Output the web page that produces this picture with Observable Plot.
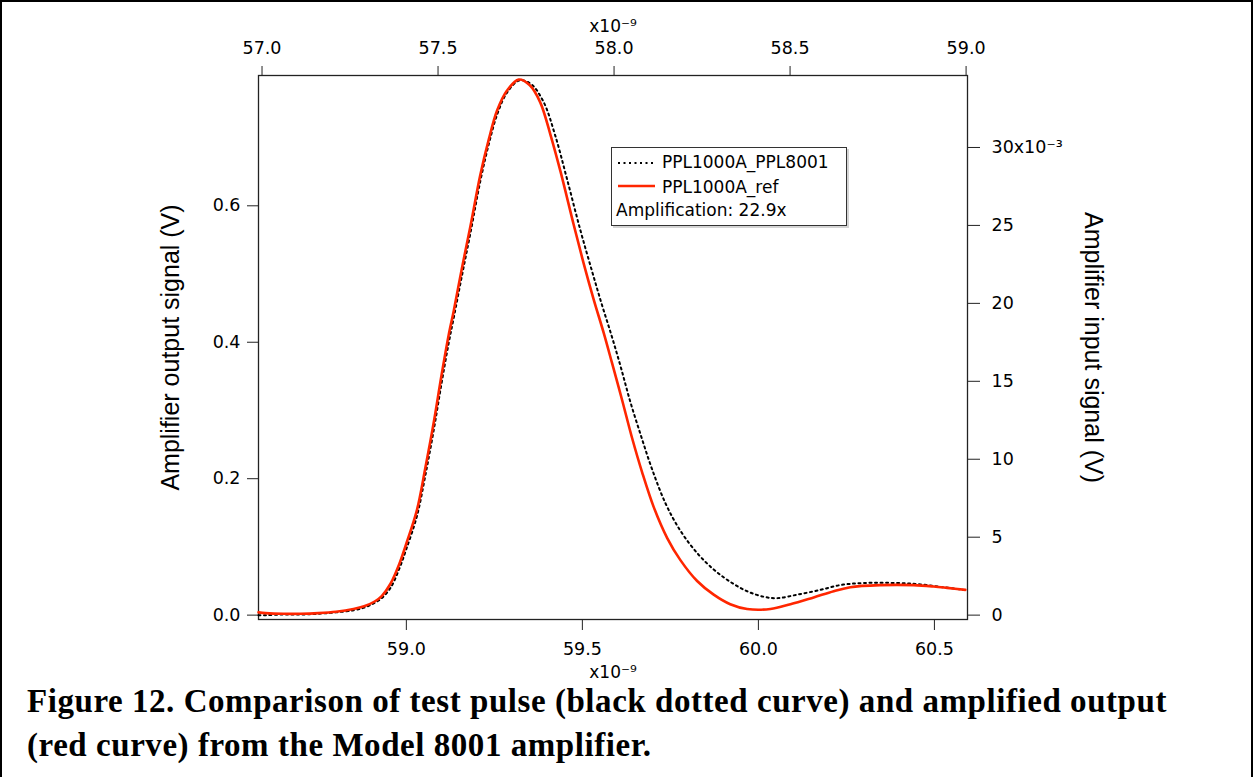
<!DOCTYPE html>
<html>
<head>
<meta charset="utf-8">
<script src="https://cdn.jsdelivr.net/npm/d3@7"></script>
<script src="https://cdn.jsdelivr.net/npm/@observablehq/plot@0.6"></script>
<style>
html, body { margin: 0; padding: 0; background: #fff; }
#page { position: relative; width: 1253px; height: 777px; overflow: hidden; background: #fff; }
#border { position: absolute; left: 0; top: 0; width: 1253px; height: 777px; box-sizing: border-box; border: 2px solid #000; border-bottom: none; pointer-events: none; }
#chart { position: absolute; left: 0; top: 0; }
#legend { position: absolute; left: 611px; top: 147px; width: 236px; height: 79px; box-sizing: border-box; border: 1px solid #333; background: #fff; box-shadow: 2px 2px 0 #d4d4d4; font-family: "DejaVu Sans", sans-serif; font-size: 17px; color: #000; }
#legend .row { position: absolute; line-height: 20px; white-space: nowrap; }
#legend svg { position: absolute; left: 0; top: 0; }
.caption { position: absolute; left: 27px; font-family: "Liberation Serif", serif; font-weight: bold; font-size: 33px; line-height: 33px; letter-spacing: 0.55px; white-space: nowrap; color: #000; }
</style>
</head>
<body>
<div id="page">
  <div id="chart"></div>
  <div id="legend">
    <svg width="234" height="77">
      <line x1="6" x2="42" y1="15" y2="15" stroke="#000" stroke-width="2" stroke-dasharray="2,3.5"></line>
      <line x1="6" x2="43" y1="38" y2="38" stroke="#ff2600" stroke-width="2.6"></line>
    </svg>
    <div class="row" style="left:50px; top:4px;">PPL1000A_PPL8001</div>
    <div class="row" style="left:50px; top:29px;">PPL1000A_ref</div>
    <div class="row" style="left:4px; top:52px;">Amplification: 22.9x</div>
  </div>
  <div class="caption" style="top:685px;">Figure 12. Comparison of test pulse (black dotted curve) and amplified output</div>
  <div class="caption" style="top:729px;">(red curve) from the Model 8001 amplifier.</div>
  <div id="border"></div>
</div>
<script>
// Conversion between the two axis systems
const T_OFFSET = 1.59;   // bottom-axis time (ns) = top-axis time (ns) + T_OFFSET
const AMP = 22.85;       // left-axis volts = right-axis volts * AMP

// Axis ticks
const bottomTicks = [59.0, 59.5, 60.0, 60.5];          // x10^-9 s
const topTicks = [57.0, 57.5, 58.0, 58.5, 59.0];       // x10^-9 s
const leftTicks = [0.0, 0.2, 0.4, 0.6];                // V
const rightTicks = [0, 5, 10, 15, 20, 25, 30];         // x10^-3 V

// PPL1000A_ref (red): bottom axis time (ns), left axis output (V)
const refTime = [58.58, 58.60, 58.65, 58.70, 58.75, 58.80, 58.85, 58.88, 58.91, 58.93,
  58.955, 58.98, 59.00, 59.03, 59.054, 59.078, 59.10, 59.12, 59.135, 59.158,
  59.182, 59.21, 59.234, 59.258, 59.286, 59.319, 59.35, 59.38, 59.41, 59.438,
  59.475, 59.504, 59.532, 59.561, 59.584, 59.613, 59.641, 59.67, 59.703, 59.741,
  59.778, 59.826, 59.873, 59.92, 59.968, 60.034, 60.091, 60.157, 60.214, 60.261,
  60.347, 60.441, 60.498, 60.536, 60.588];
const refVolt = [0.004, 0.003, 0.002, 0.002, 0.003, 0.005, 0.009, 0.013, 0.020, 0.028,
  0.046, 0.075, 0.105, 0.154, 0.216, 0.283, 0.352, 0.410, 0.447, 0.509,
  0.570, 0.645, 0.697, 0.740, 0.769, 0.785, 0.777, 0.752, 0.703, 0.650,
  0.573, 0.515, 0.463, 0.413, 0.370, 0.315, 0.260, 0.209, 0.158, 0.113,
  0.081, 0.050, 0.030, 0.016, 0.009, 0.009, 0.016, 0.026, 0.035, 0.041,
  0.044, 0.044, 0.042, 0.040, 0.037];

// PPL1000A_PPL8001 (black dotted): top axis time (ns), right axis input (mV)
const inTime = [56.99, 57.01, 57.06, 57.11, 57.16, 57.21, 57.26, 57.29, 57.32, 57.34,
  57.365, 57.39, 57.41, 57.44, 57.464, 57.488, 57.51, 57.53, 57.545, 57.568,
  57.592, 57.62, 57.644, 57.668, 57.696, 57.732, 57.765, 57.80, 57.833, 57.866,
  57.904, 57.937, 57.965, 57.994, 58.02, 58.046, 58.077, 58.108, 58.147, 58.188,
  58.236, 58.283, 58.33, 58.378, 58.425, 58.463, 58.52, 58.586, 58.643, 58.709,
  58.804, 58.87, 58.936, 58.993];
const inMilliVolt = [0.00, 0.00, 0.04, 0.04, 0.09, 0.18, 0.31, 0.48, 0.79, 1.09,
  1.75, 2.98, 4.24, 6.35, 8.97, 11.90, 14.88, 17.42, 19.12, 21.79,
  24.51, 27.83, 30.20, 32.12, 33.52, 34.31, 34.05, 32.91, 30.76, 28.01,
  24.72, 22.10, 19.95, 17.85, 15.84, 13.70, 11.47, 9.36, 7.13, 5.43,
  3.98, 2.93, 2.14, 1.53, 1.18, 1.09, 1.31, 1.62, 1.93, 2.06,
  2.06, 1.97, 1.79, 1.62];

const refData = refTime.map((t, i) => ({t, v: refVolt[i]}));
const inData = inTime.map((t, i) => ({t, v: inMilliVolt[i]}));

const fmt1 = d3.format(".1f");
const labelFont = "Liberation Sans, Arial, sans-serif";

const chart = Plot.plot({
  width: 1253,
  height: 690,
  marginLeft: 258,
  marginRight: 286,
  marginTop: 75,
  marginBottom: 71,
  style: {fontFamily: "DejaVu Sans, sans-serif", fontSize: "17.5px", color: "#000", background: "transparent", overflow: "visible"},
  x: {domain: [58.58, 60.594]},
  y: {domain: [-0.0064, 0.791]},
  marks: [
    Plot.frame({stroke: "#222", strokeWidth: 1.3}),
    Plot.axisX(bottomTicks, {anchor: "bottom", tickFormat: fmt1, tickSize: 11, tickPadding: 12, label: null, stroke: "#222"}),
    Plot.axisX(topTicks, {anchor: "top", x: d => d + T_OFFSET, tickFormat: fmt1, tickSize: 10, tickPadding: 12, label: null, stroke: "#222"}),
    Plot.axisY(leftTicks, {anchor: "left", tickFormat: fmt1, tickSize: 11, tickPadding: 7, label: null, stroke: "#222"}),
    Plot.axisY(rightTicks, {anchor: "right", y: d => d / 1000 * AMP, tickFormat: d => d === 30 ? "30x10⁻³" : String(d), tickSize: 12, tickPadding: 12, label: null, stroke: "#222"}),
    Plot.line(inData, {x: d => d.t + T_OFFSET, y: d => d.v / 1000 * AMP, stroke: "#000", strokeWidth: 2, strokeDasharray: "2,3.5", curve: "catmull-rom"}),
    Plot.line(refData, {x: "t", y: "v", stroke: "#ff2600", strokeWidth: 2.6, curve: "catmull-rom"}),
    Plot.text(["Amplifier output signal (V)"], {frameAnchor: "left", dx: -88, rotate: -90, fontSize: 25, fontFamily: labelFont, lineAnchor: "middle", textAnchor: "middle", fill: "#000"}),
    Plot.text(["Amplifier input signal (V)"], {frameAnchor: "right", dx: 125, rotate: 90, fontSize: 25, fontFamily: labelFont, lineAnchor: "middle", textAnchor: "middle", fill: "#000"}),
    Plot.text(["x10⁻⁹"], {frameAnchor: "top", dy: -49, fontSize: 17, lineAnchor: "middle", fill: "#000"}),
    Plot.text(["x10⁻⁹"], {frameAnchor: "bottom", dy: 53, fontSize: 17, lineAnchor: "middle", fill: "#000"})
  ]
});
document.getElementById("chart").appendChild(chart);
</script>
</body>
</html>
